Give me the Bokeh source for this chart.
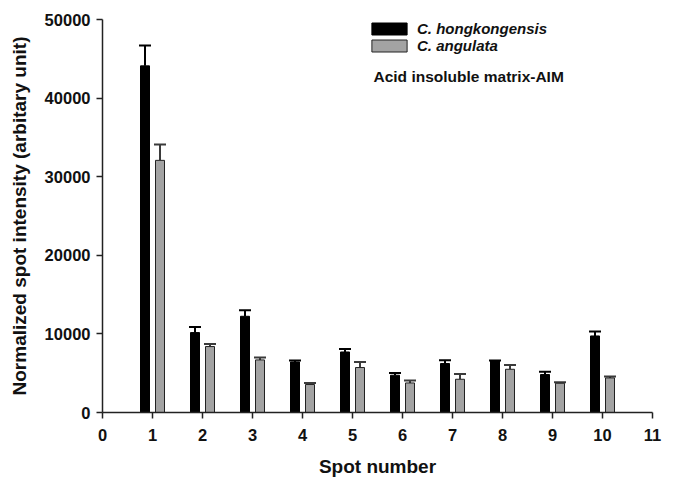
from bokeh.plotting import figure
from bokeh.models import (Range1d, FixedTicker, ColumnDataSource, Whisker, TeeHead,
                          Legend, LegendItem, Label)
from bokeh.embed import file_html
from bokeh.resources import INLINE

spots = [1, 2, 3, 4, 5, 6, 7, 8, 9, 10]
hongkongensis = [44100, 10170, 12240, 6430, 7700, 4740, 6230, 6560, 4830, 9740]
hongkongensis_err = [2600, 700, 760, 180, 390, 300, 420, 50, 340, 560]
angulata = [32080, 8390, 6690, 3560, 5720, 3760, 4230, 5500, 3720, 4400]
angulata_err = [2030, 330, 300, 200, 710, 310, 680, 550, 130, 170]
x_ticks = list(range(0, 12))
y_ticks = [0, 10000, 20000, 30000, 40000, 50000]

offset = 0.15
bar_w = 0.18
FONT = "Liberation Sans"

p = figure(width=672, height=485, output_backend="svg", toolbar_location=None,
           x_range=Range1d(0, 11), y_range=Range1d(0, 50000),
           min_border_left=102, min_border_right=20, min_border_top=19, min_border_bottom=73)
p.outline_line_color = None
p.xgrid.visible = False
p.ygrid.visible = False

src_h = ColumnDataSource(dict(x=[s - offset for s in spots], top=hongkongensis,
                              upper=[v + e for v, e in zip(hongkongensis, hongkongensis_err)]))
src_a = ColumnDataSource(dict(x=[s + offset for s in spots], top=angulata,
                              upper=[v + e for v, e in zip(angulata, angulata_err)]))

w_h = Whisker(source=src_h, base="x", lower="top", upper="upper", dimension="height",
              line_color="black", line_width=2,
              upper_head=TeeHead(size=12, line_color="black", line_width=2), lower_head=None)
w_a = Whisker(source=src_a, base="x", lower="top", upper="upper", dimension="height",
              line_color="#3a3a3a", line_width=2,
              upper_head=TeeHead(size=12, line_color="#3a3a3a", line_width=2), lower_head=None)
p.add_layout(w_h)
p.add_layout(w_a)

r_h = p.vbar(x="x", top="top", width=bar_w, source=src_h, fill_color="black", line_color="black")
r_a = p.vbar(x="x", top="top", width=bar_w, source=src_a, fill_color="#a3a3a3",
             line_color="#222222", line_width=1)

legend = Legend(items=[LegendItem(label="C. hongkongensis", renderers=[r_h]),
                       LegendItem(label="C. angulata", renderers=[r_a])],
                location=(265, 358), padding=0, margin=0, spacing=0,
                glyph_width=44, glyph_height=15, label_standoff=6,
                label_text_font=FONT, label_text_font_style="bold italic",
                label_text_font_size="15px", label_text_color="#111111",
                border_line_alpha=0, background_fill_alpha=0)
p.add_layout(legend, "center")

p.add_layout(Label(x=5.42, y=42750, text="Acid insoluble matrix-AIM", text_font=FONT,
                   text_font_style="bold", text_font_size="15.5px", text_baseline="middle",
                   text_color="#111111"))

for ax in (p.xaxis, p.yaxis):
    ax.axis_line_width = 1.5
    ax.axis_line_color = "#222222"
    ax.major_tick_line_width = 1.5
    ax.major_tick_line_color = "#222222"
    ax.major_tick_out = 6
    ax.major_tick_in = 0
    ax.minor_tick_line_color = None
    ax.major_label_text_font = FONT
    ax.major_label_text_font_style = "bold"
    ax.major_label_text_font_size = "16.5px"
    ax.major_label_text_color = "#111111"
    ax.axis_label_text_font = FONT
    ax.axis_label_text_font_style = "bold"
    ax.axis_label_text_font_size = "19px"
    ax.axis_label_text_color = "#111111"

p.xaxis.ticker = FixedTicker(ticks=x_ticks)
p.yaxis.ticker = FixedTicker(ticks=y_ticks)
p.xaxis.major_label_standoff = 10
p.yaxis.major_label_standoff = 6
p.xaxis.axis_label = "Spot number"
p.yaxis.axis_label = "Normalized spot intensity (arbitary unit)"
p.xaxis.axis_label_standoff = 12
p.yaxis.axis_label_standoff = 12

open("out.html", "w").write(file_html(p, INLINE))
